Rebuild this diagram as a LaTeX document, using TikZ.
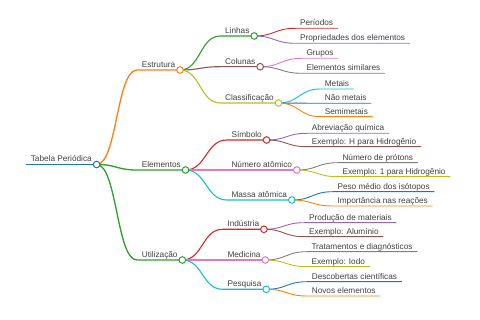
\documentclass[tikz,border=0pt]{standalone}
\usepackage{fontspec}
\setmainfont{Liberation Sans}
\usetikzlibrary{backgrounds}
\definecolor{cBlue}{HTML}{1F77B4}
\definecolor{cOrange}{HTML}{FF7F0E}
\definecolor{cGreen}{HTML}{2CA02C}
\definecolor{cRed}{HTML}{D62728}
\definecolor{cPurple}{HTML}{9467BD}
\definecolor{cBrown}{HTML}{8C564B}
\definecolor{cPink}{HTML}{E377C2}
\definecolor{cGray}{HTML}{7F7F7F}
\definecolor{cOlive}{HTML}{BCBD22}
\definecolor{cCyan}{HTML}{17BECF}
\definecolor{txt}{HTML}{404040}
\tikzset{
  lbl/.style={font=\fontsize{8.25}{9}\selectfont, text=txt, inner xsep=4.6pt, inner ysep=0pt, anchor=base west},
  circ/.style={circle, fill=white, line width=1pt, minimum size=6.6pt, inner sep=0pt},
  wroot/.style={line width=1.8pt},
  wone/.style={line width=1.3pt},
  wtwo/.style={line width=1.1pt},
  wleaf/.style={line width=0.9pt},
}
% name, left x, underline y, text
\newcommand\mmLabel[4]{%
  \coordinate (#1-l) at (#2,#3);
  \node[lbl] (#1-t) at (#2,#3-2.5) {#4};
  \coordinate (#1-r) at (#1-t.east |- #1-l);
}
% parent, child, colour, width style
\newcommand\mmLink[4]{%
  \draw[#3,#4] (#1.center) .. controls +(20.5,0) and +(-20.5,0) .. (#2-l) -- (#2-r);
}
\begin{document}
\begin{tikzpicture}[x=1pt,y=-1pt]
\useasboundingbox (0,0) rectangle (480,320);
% ---- labels ----
\mmLabel{root}{26}{164.5}{Tabela Periódica}
\mmLabel{est}{137}{70}{Estrutura}
\mmLabel{ele}{137}{170}{Elementos}
\mmLabel{uti}{137}{260}{Utilização}
\mmLabel{lin}{220.3}{36}{Linhas}
\mmLabel{col}{220.3}{66.7}{Colunas}
\mmLabel{cla}{220.3}{103}{Classificação}
\mmLabel{sim}{226.7}{140}{Símbolo}
\mmLabel{num}{226.7}{170}{Número atômico}
\mmLabel{mas}{226.7}{200}{Massa atômica}
\mmLabel{ind}{222.7}{229.3}{Indústria}
\mmLabel{med}{222.7}{260}{Medicina}
\mmLabel{pes}{222.7}{289.3}{Pesquisa}
\mmLabel{per}{295.3}{28.3}{Períodos}
\mmLabel{pro}{295.3}{43.3}{Propriedades dos elementos}
\mmLabel{gru}{301.7}{58.3}{Grupos}
\mmLabel{els}{301.7}{73.3}{Elementos similares}
\mmLabel{met}{320}{89}{Metais}
\mmLabel{nao}{320}{103.3}{Não metais}
\mmLabel{sem}{320}{116.7}{Semimetais}
\mmLabel{abr}{307}{133.3}{Abreviação química}
\mmLabel{exh}{307}{146.7}{Exemplo: H para Hidrogênio}
\mmLabel{npr}{337.7}{162.7}{Número de prótons}
\mmLabel{exu}{337.7}{176.7}{Exemplo: 1 para Hidrogênio}
\mmLabel{pms}{332.7}{191.7}{Peso médio dos isótopos}
\mmLabel{imp}{332.7}{206}{Importância nas reações}
\mmLabel{prm}{304.3}{222.7}{Produção de materiais}
\mmLabel{exa}{304.3}{236.7}{Exemplo: Alumínio}
\mmLabel{tra}{306.7}{251.7}{Tratamentos e diagnósticos}
\mmLabel{exi}{306.7}{266.7}{Exemplo: Iodo}
\mmLabel{des}{307}{281.7}{Descobertas científicas}
\mmLabel{nov}{307}{296}{Novos elementos}
% ---- circles ----
\node[circ, draw=cBlue] (root) at (root-r) {};
\node[circ, draw=cOrange] (est) at (est-r) {};
\node[circ, draw=cGreen] (ele) at (ele-r) {};
\node[circ, draw=cGreen] (uti) at (uti-r) {};
\node[circ, draw=cGreen] (lin) at (lin-r) {};
\node[circ, draw=cBrown] (col) at (col-r) {};
\node[circ, draw=cOlive] (cla) at (cla-r) {};
\node[circ, draw=cRed] (sim) at (sim-r) {};
\node[circ, draw=cPink] (num) at (num-r) {};
\node[circ, draw=cCyan] (mas) at (mas-r) {};
\node[circ, draw=cRed] (ind) at (ind-r) {};
\node[circ, draw=cPink] (med) at (med-r) {};
\node[circ, draw=cCyan] (pes) at (pes-r) {};
% ---- connectors ----
\begin{scope}[on background layer]
\draw[cBlue,wroot] (root-l) -- (root-r);
\mmLink{root}{est}{cOrange}{wone}
\mmLink{root}{ele}{cGreen}{wone}
\mmLink{root}{uti}{cGreen}{wone}
\mmLink{est}{lin}{cGreen}{wtwo}
\mmLink{est}{col}{cBrown}{wtwo}
\mmLink{est}{cla}{cOlive}{wtwo}
\mmLink{ele}{sim}{cRed}{wtwo}
\mmLink{ele}{num}{cPink}{wtwo}
\mmLink{ele}{mas}{cCyan}{wtwo}
\mmLink{uti}{ind}{cRed}{wtwo}
\mmLink{uti}{med}{cPink}{wtwo}
\mmLink{uti}{pes}{cCyan}{wtwo}
\mmLink{lin}{per}{cRed}{wleaf}
\mmLink{lin}{pro}{cPurple}{wleaf}
\mmLink{col}{gru}{cPink}{wleaf}
\mmLink{col}{els}{cGray}{wleaf}
\mmLink{cla}{met}{cCyan}{wleaf}
\mmLink{cla}{nao}{cBlue}{wleaf}
\mmLink{cla}{sem}{cOrange}{wleaf}
\mmLink{sim}{abr}{cPurple}{wleaf}
\mmLink{sim}{exh}{cBrown}{wleaf}
\mmLink{num}{npr}{cGray}{wleaf}
\mmLink{num}{exu}{cOlive}{wleaf}
\mmLink{mas}{pms}{cBlue}{wleaf}
\mmLink{mas}{imp}{cOrange}{wleaf}
\mmLink{ind}{prm}{cPurple}{wleaf}
\mmLink{ind}{exa}{cBrown}{wleaf}
\mmLink{med}{tra}{cGray}{wleaf}
\mmLink{med}{exi}{cOlive}{wleaf}
\mmLink{pes}{des}{cBlue}{wleaf}
\mmLink{pes}{nov}{cOrange}{wleaf}
\end{scope}
\end{tikzpicture}
\end{document}
